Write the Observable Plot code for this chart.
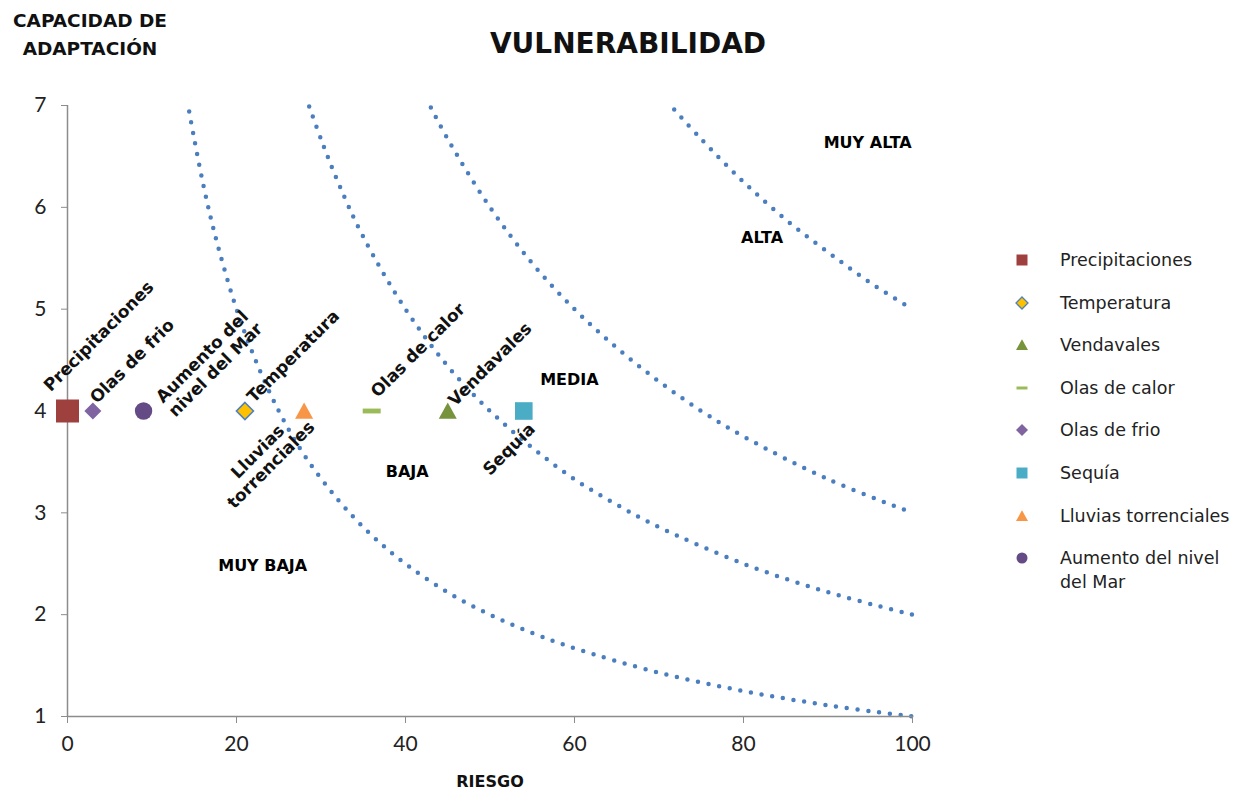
<!DOCTYPE html>
<html>
<head>
<meta charset="utf-8">
<script src="https://cdn.jsdelivr.net/npm/d3@7"></script>
<script src="https://cdn.jsdelivr.net/npm/@observablehq/plot@0.6"></script>
<style>
  html, body { margin: 0; padding: 0; background: #fff; }
  #chart { position: relative; width: 1238px; height: 791px; overflow: hidden; font-family: "DejaVu Sans", sans-serif; color: #222; }
  #chart svg.plot { position: absolute; left: 0; top: 0; }
  .title { position: absolute; left: 628px; top: 24px; transform: translateX(-50%); font-size: 28px; font-weight: bold; line-height: 40px; color: #111; white-space: nowrap; }
  .ytitle { position: absolute; left: 90px; top: 7px; transform: translateX(-50%); font-size: 18.5px; font-weight: bold; line-height: 28px; text-align: center; color: #111; white-space: nowrap; }
  .xtitle { position: absolute; left: 490px; top: 771px; transform: translateX(-50%); font-size: 16px; font-weight: bold; line-height: 22px; color: #111; }
  .legend { position: absolute; left: 1010px; top: 0; }
  .legend .row { position: absolute; left: 0; display: flex; align-items: flex-start; font-size: 17.5px; line-height: 24px; white-space: nowrap; color: #222; }
  .legend .row svg { width: 24px; height: 24px; margin-right: 26px; flex: none; }
</style>
</head>
<body>
<div id="chart">
  <div class="title">VULNERABILIDAD</div>
  <div class="ytitle">CAPACIDAD DE<br>ADAPTACIÓN</div>
  <div class="xtitle">RIESGO</div>
  <div class="legend" id="legend"></div>
</div>
<script>
// Hazards: risk (x) against adaptive capacity (y)
const categories = ["Precipitaciones", "Temperatura", "Vendavales", "Olas de calor", "Olas de frio", "Sequía", "Lluvias torrenciales", "Aumento del nivel del Mar"];
const riesgo = [0, 21, 45, 36, 3, 54, 28, 9];
const capacidad = [4, 4, 4, 4, 4, 4, 4, 4];
const pointLabels = ["Precipitaciones", "Temperatura", "Vendavales", "Olas de calor", "Olas de frio", "Sequía", "Lluvias\ntorrenciales", "Aumento del\nnivel del Mar"];

// Vulnerability zone boundaries
const bound1X = [14.4, 15, 16, 17, 18, 20, 22, 25, 28, 32, 36, 40, 45, 50, 55, 60, 70, 80, 90, 100];
const bound1Y = [6.94, 6.67, 6.25, 5.88, 5.56, 5.0, 4.55, 4.0, 3.57, 3.13, 2.78, 2.5, 2.22, 2.0, 1.82, 1.67, 1.43, 1.25, 1.11, 1.0];
const bound2X = [28.6, 30, 32, 35, 40, 45, 50, 55, 60, 65, 70, 80, 90, 100];
const bound2Y = [6.99, 6.67, 6.25, 5.71, 5.0, 4.44, 4.0, 3.64, 3.33, 3.08, 2.86, 2.5, 2.22, 2.0];
const bound3X = [43, 45, 50, 55, 60, 65, 70, 75, 80, 90, 100];
const bound3Y = [6.98, 6.67, 6.0, 5.45, 5.0, 4.62, 4.29, 4.0, 3.75, 3.33, 3.0];
const bound4X = [71.8, 75, 80, 85, 90, 95, 100];
const bound4Y = [6.96, 6.67, 6.25, 5.88, 5.56, 5.26, 5.0];

// Zone names
const zoneNames = ["MUY ALTA", "ALTA", "MEDIA", "BAJA", "MUY BAJA"];
const zoneX = [94.7, 82.2, 59.4, 40.2, 23.1];
const zoneY = [6.63, 5.70, 4.31, 3.40, 2.48];

// Axis ticks
const xTicks = [0, 20, 40, 60, 80, 100];
const yTicks = [1, 2, 3, 4, 5, 6, 7];

// Marker shapes (r is derived from the size Plot passes in)
function shape(kind) {
  return {
    draw(ctx, size) {
      const r = Math.sqrt(size / Math.PI);
      if (kind === "square") { ctx.rect(-r, -r, 2 * r, 2 * r); }
      else if (kind === "diamond") { ctx.moveTo(0, -r); ctx.lineTo(r, 0); ctx.lineTo(0, r); ctx.lineTo(-r, 0); ctx.closePath(); }
      else if (kind === "triangle") { ctx.moveTo(0, -r * 0.95); ctx.lineTo(r, r * 0.85); ctx.lineTo(-r, r * 0.85); ctx.closePath(); }
      else if (kind === "dash") { ctx.rect(-r, -r * 0.27, 2 * r, r * 0.54); }
      else { ctx.moveTo(r, 0); ctx.arc(0, 0, r, 0, 2 * Math.PI); }
    }
  };
}

const seriesStyle = {
  "Precipitaciones":           {kind: "square",   r: 11.5, lr: 5.5, fill: "#9E413E", stroke: "none", dx: 31,  dy: -75},
  "Temperatura":               {kind: "diamond",  r: 8.5,  lr: 6,   fill: "#FFC000", stroke: "#4F81BD", dx: 48, dy: -55},
  "Vendavales":                {kind: "triangle", r: 9,    lr: 6,   fill: "#77933C", stroke: "none", dx: 42,  dy: -47},
  "Olas de calor":             {kind: "dash",     r: 9,    lr: 5.5, fill: "#9BBB59", stroke: "none", dx: 46,  dy: -61},
  "Olas de frio":              {kind: "diamond",  r: 8.5,  lr: 6,   fill: "#8064A2", stroke: "none", dx: 39,  dy: -50},
  "Sequía":                    {kind: "square",   r: 8.8,  lr: 5.5, fill: "#4BACC6", stroke: "none", dx: -15, dy: 38},
  "Lluvias torrenciales":      {kind: "triangle", r: 9,    lr: 6,   fill: "#F79646", stroke: "none", dx: -40, dy: 47},
  "Aumento del nivel del Mar": {kind: "circle",   r: 8.7,  lr: 5.5, fill: "#654B86", stroke: "none", dx: 65,  dy: -48}
};

const points = categories.map((c, i) => ({name: c, label: pointLabels[i], x: riesgo[i], y: capacidad[i]}));
const bounds = [[bound1X, bound1Y], [bound2X, bound2Y], [bound3X, bound3Y], [bound4X, bound4Y]]
  .map(([xs, ys]) => xs.map((x, i) => ({x, y: ys[i]})));
const zones = zoneNames.map((n, i) => ({name: n, x: zoneX[i], y: zoneY[i]}));

const axisColor = "#8c8c8c";
const dotted = {x: "x", y: "y", stroke: "#4A7EBF", strokeWidth: 4.5, strokeDasharray: "0 10.8", strokeLinecap: "round", curve: "catmull-rom"};

const marks = [
  ...bounds.map(b => Plot.line(b, dotted)),
  Plot.ruleX([0], {stroke: axisColor, strokeWidth: 1.5}),
  Plot.ruleY([1], {stroke: axisColor, strokeWidth: 1.5}),
  Plot.axisX(xTicks, {tickSize: 7, tickPadding: 13, stroke: axisColor, fill: "#222", fontSize: 21, fontFamily: "Lato, sans-serif", tickFormat: d3.format("d"), label: null}),
  Plot.axisY(yTicks, {tickSize: 6, tickPadding: 15, stroke: axisColor, fill: "#222", fontSize: 21, fontFamily: "Lato, sans-serif", tickFormat: d3.format("d"), label: null}),
  Plot.text(zones, {x: "x", y: "y", text: "name", fontSize: 16, fontWeight: "bold", fill: "#000", textAnchor: "middle"}),
  ...points.map(p => {
    const s = seriesStyle[p.name];
    return Plot.dot([p], {x: "x", y: "y", r: s.r, symbol: shape(s.kind), fill: s.fill, stroke: s.stroke, strokeWidth: 1.6});
  }),
  ...points.map(p => {
    const s = seriesStyle[p.name];
    return Plot.text([p], {x: "x", y: "y", text: "label", rotate: -45, dx: s.dx, dy: s.dy, textAnchor: "middle", lineAnchor: "middle", lineHeight: 1.1, fontSize: 17, fontWeight: "bold", fill: "#111"});
  })
];

const plot = Plot.plot({
  width: 1238,
  height: 791,
  marginLeft: 67,
  marginRight: 326,
  marginTop: 105,
  marginBottom: 75,
  x: {domain: [0, 100], label: null},
  y: {domain: [1, 7], label: null},
  style: {fontFamily: "DejaVu Sans, sans-serif", background: "transparent", overflow: "visible"},
  marks
});
plot.classList.add("plot");
document.getElementById("chart").prepend(plot);

// Legend
const legend = document.getElementById("legend");
categories.forEach((c, i) => {
  const s = seriesStyle[c];
  const row = document.createElement("div");
  row.className = "row";
  row.style.top = (248 + i * 42.6) + "px";
  const path = d3.symbol(shape(s.kind), s.lr * s.lr * Math.PI)();
  row.innerHTML = `<svg viewBox="-12 -12 24 24"><path d="${path}" fill="${s.fill}" stroke="${s.stroke}" stroke-width="1.3"/></svg><span>${c.replace(" del Mar", "<br>del Mar")}</span>`;
  legend.appendChild(row);
});
</script>
</body>
</html>
